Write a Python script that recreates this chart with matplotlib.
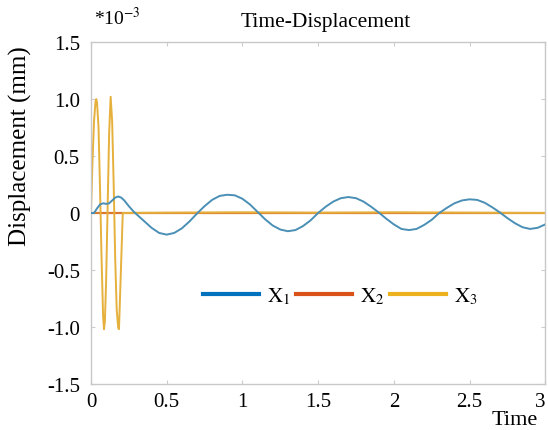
import matplotlib
matplotlib.use("Agg")
import matplotlib.pyplot as plt

plt.rcParams['font.family'] = ['Liberation Serif', 'DejaVu Serif']
plt.rcParams['mathtext.fontset'] = 'stix'

# X1 (blue)
t1 = [0.0, 0.02, 0.04, 0.06, 0.08, 0.10, 0.12, 0.14, 0.16, 0.18, 0.20, 0.22, 0.25, 0.28,
      0.30, 0.35, 0.40, 0.45, 0.50, 0.55, 0.60, 0.65, 0.70, 0.75, 0.80, 0.85, 0.90, 0.95,
      1.00, 1.05, 1.10, 1.15, 1.20, 1.25, 1.30, 1.35, 1.40, 1.45, 1.50, 1.55, 1.60, 1.65,
      1.70, 1.75, 1.80, 1.85, 1.90, 1.95, 2.00, 2.05, 2.10, 2.15, 2.20, 2.25, 2.30, 2.35,
      2.40, 2.45, 2.50, 2.55, 2.60, 2.65, 2.70, 2.75, 2.80, 2.85, 2.90, 2.95, 3.00]
x1 = [0.0, 0.0, 0.04, 0.075, 0.085, 0.08, 0.085, 0.11, 0.135, 0.145, 0.135, 0.11, 0.06, 0.015,
      -0.01, -0.07, -0.13, -0.175, -0.19, -0.175, -0.135, -0.075, -0.005, 0.06, 0.115, 0.15, 0.16, 0.155,
      0.125, 0.075, 0.01, -0.055, -0.11, -0.145, -0.16, -0.15, -0.115, -0.065, 0.0, 0.055, 0.10, 0.13,
      0.14, 0.13, 0.10, 0.055, 0.005, -0.05, -0.10, -0.14, -0.15, -0.14, -0.105, -0.06, 0.0, 0.045,
      0.085, 0.11, 0.12, 0.115, 0.09, 0.05, 0.005, -0.045, -0.09, -0.125, -0.14, -0.13, -0.10]

# X2 (orange) stays at zero, hidden under X3
t2 = [0.0, 3.0]
x2 = [0.0, 0.0]

# X3 (yellow)
t3 = [0.0, 0.01, 0.02, 0.03, 0.035, 0.04, 0.05, 0.06, 0.07, 0.08, 0.086, 0.092, 0.10, 0.11,
      0.12, 0.13, 0.14, 0.15, 0.16, 0.17, 0.18, 0.185, 0.21, 0.5, 1.0, 1.5, 2.0, 2.5, 3.0]
x3 = [0.0, 0.45, 0.80, 0.98, 1.00, 0.97, 0.75, 0.20, -0.40, -0.90, -1.02, -0.95, -0.60, 0.05,
      0.70, 1.02, 0.80, 0.25, -0.40, -0.85, -1.01, -1.02, 0.0, 0.003, 0.006, 0.003, 0.006, 0.003, 0.0]

xticks = [0, 0.5, 1, 1.5, 2, 2.5, 3]
xticklabels = ['0', '0.5', '1', '1.5', '2', '2.5', '3']
yticks = [-1.5, -1.0, -0.5, 0, 0.5, 1.0, 1.5]
yticklabels = ['-1.5', '-1.0', '-0.5', '0', '0.5', '1.0', '1.5']

fig = plt.figure(figsize=(5.48, 4.31), dpi=100)
ax = fig.add_axes([0.166, 0.107, 0.829, 0.793])

ax.plot(t1, x1, color='#4a8fb5', lw=1.4, label=r'$\mathrm{X}_1$', zorder=3)
ax.plot(t2, x2, color='#d9782e', lw=1.6, label=r'$\mathrm{X}_2$', zorder=2)
ax.plot(t3, x3, color='#e6b03c', lw=1.4, label=r'$\mathrm{X}_3$', zorder=2.5)

ax.set_xlim(0, 3)
ax.set_ylim(-1.5, 1.5)
ax.set_xticks(xticks)
ax.set_xticklabels(xticklabels)
ax.set_yticks(yticks)
ax.set_yticklabels(yticklabels)
ax.tick_params(direction='in', length=3, color='#cccccc', labelsize=15, top=True, right=True)
ax.tick_params(axis='x', pad=6)
ax.tick_params(axis='y', pad=8)
# keep the "3" inside the picture
ax.get_xticklabels()[-1].set_horizontalalignment('right')
for s in ax.spines.values():
    s.set_color('#c8c8c8')
    s.set_linewidth(1)

leg = ax.legend(loc='center', bbox_to_anchor=(1.646, -0.73), bbox_transform=ax.transData,
                ncol=3, frameon=False, fontsize=15, handlelength=2.7,
                handletextpad=0.35, columnspacing=0.3)
legcolors = ['#0072bd', '#d95319', '#edb120']
for h, c in zip(leg.get_lines(), legcolors):
    h.set_linewidth(3)
    h.set_color(c)

fig.text(326 / 548, 1 - 22 / 431, 'Time-Displacement', ha='center', va='center', fontsize=15.5)
fig.text(94 / 548, 1 - 18 / 431, r'*10$^{\mathrm{-3}}$', ha='left', va='center', fontsize=14)
fig.text(20 / 548, 1 - 146 / 431, 'Displacement (mm)', ha='center', va='center',
         rotation=90, fontsize=18)
fig.text(515 / 548, 1 - 421 / 431, 'Time', ha='center', va='center', fontsize=16)

fig.savefig('out.png', dpi=100)
